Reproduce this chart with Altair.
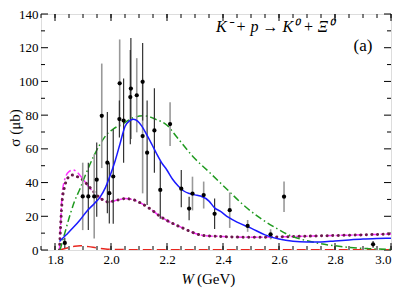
import altair as alt
import pandas as pd

# ---- data ----
gray_W = [1.899, 1.940, 1.967, 2.031, 2.092, 2.113, 2.211, 2.291, 2.331, 2.424, 2.488, 2.570, 2.618]
gray_s = [31.8, 31.8, 79.6, 98.9, 91.8, 67.6, 74.7, 33.5, 32.6, 23.6, 14.3, 9.3, 31.6]
gray_e = [20, 25, 31, 26, 22, 34, 13, 10, 8, 10.5, 3.5, 3, 9]

dark_W = [1.835, 1.919, 1.949, 1.987, 1.994, 2.008, 2.030, 2.045, 2.069, 2.071, 2.113, 2.129, 2.155, 2.176, 2.251, 2.279, 2.370, 2.936]
dark_s = [4.2, 31.8, 41.7, 51.8, 33.7, 43.6, 77.7, 76.8, 90.7, 95.8, 99.8, 57.7, 70.9, 35.6, 36.4, 24.6, 21.5, 3.4]
dark_e = [3, 20, 22, 30, 18, 28, 11, 25, 28, 30, 23, 31, 25, 17, 11, 7, 9, 2]

blue_W = [1.816, 1.84, 1.865, 1.89, 1.913, 1.94, 1.961, 1.98, 1.996, 2.015, 2.032, 2.05, 2.065, 2.08, 2.095, 2.11, 2.127, 2.145, 2.163, 2.18, 2.199, 2.22, 2.24, 2.26, 2.28, 2.3, 2.32, 2.35, 2.37, 2.39, 2.42, 2.45, 2.5, 2.55, 2.6, 2.65, 2.7, 2.75, 2.8, 2.85, 2.9, 2.95, 3.0]
blue_s = [5, 9, 13.3, 18, 22.9, 27.5, 31.4, 37, 43.8, 53, 62.9, 73.3, 76.5, 77.5, 76.5, 73.5, 68.6, 63, 57.1, 52, 47.6, 42, 38, 35, 33.5, 32.7, 32, 29, 25, 23, 19.3, 16.5, 13, 9, 6.5, 5.2, 4.8, 4.8, 5.4, 6, 6.5, 6.8, 7]

green_W = [1.818, 1.835, 1.854, 1.87, 1.889, 1.91, 1.937, 1.96, 1.985, 2.01, 2.044, 2.08, 2.12, 2.16, 2.2, 2.235, 2.294, 2.354, 2.413, 2.473, 2.532, 2.59, 2.639, 2.7, 2.746, 2.8, 2.854, 2.92, 3.0]
green_s = [0, 10, 21, 29, 36.2, 45, 55.2, 62.5, 68.6, 72, 75, 78.5, 79.6, 77.5, 74, 67, 55.2, 45.7, 36.2, 26.7, 19, 13, 8.6, 5.5, 3.8, 2.5, 1.5, 0.8, 0.3]

mag_W = [1.816, 1.82, 1.825, 1.835, 1.85, 1.865, 1.88, 1.9, 1.925, 1.96, 1.99, 2.02, 2.05, 2.08, 2.11, 2.145, 2.175, 2.2, 2.23, 2.26, 2.29, 2.33, 2.4, 2.5, 2.6, 2.7, 2.8, 2.9, 3.0]
mag_s = [0, 15, 32, 42, 46.5, 47.5, 46, 42, 36.5, 31, 28.5, 29.5, 30.5, 29.8, 27.5, 23.8, 20, 17.5, 15, 12.8, 10.5, 8.6, 8, 7.5, 7.8, 8.2, 8.6, 9, 9.5]
dot_s = [0, 14, 28, 38, 43.5, 44.5, 43.5, 41.5, 37, 31, 28.5, 29.5, 30.5, 29.8, 27.5, 23.8, 20, 17.5, 15, 12.8, 10.5, 8.6, 8, 7.5, 7.8, 8.2, 8.6, 9, 9.5]

red_W = [1.816, 1.84, 1.87, 1.89, 1.92, 1.95, 1.98, 2.02, 2.1, 2.5, 3.0]
red_s = [0, 1, 2.2, 2.5, 2, 1.2, 0.6, 0.3, 0.2, 0.2, 0.2]

x_major = [1.8, 2.0, 2.2, 2.4, 2.6, 2.8, 3.0]
x_minor = [round(1.75 + 0.05 * i, 2) for i in range(26)]
y_major = [0, 20, 40, 60, 80, 100, 120, 140]
y_minor = [10, 30, 50, 70, 90, 110, 130]

W, H = 350, 236
FONT = "Liberation Serif, Times New Roman, serif"

xs = alt.Scale(domain=[1.75, 3.0], nice=False, zero=False)
ys = alt.Scale(domain=[0, 140], nice=False)

xaxis = alt.Axis(values=x_major, format=".1f", ticks=False, domain=False, grid=False,
                 labelFont=FONT, labelFontSize=13, labelColor="black", labelPadding=3, title=None)
yaxis = alt.Axis(values=y_major, ticks=False, domain=False, grid=False,
                 labelFont=FONT, labelFontSize=13, labelColor="black", labelPadding=3, title=None)

def X(f):
    return alt.X(f, scale=xs, axis=xaxis)

def Y(f):
    return alt.Y(f, scale=ys, axis=yaxis)

def pts(Wl, sl, el):
    return pd.DataFrame({"W": Wl, "s": sl, "lo": [a - b for a, b in zip(sl, el)], "hi": [a + b for a, b in zip(sl, el)]})

gdf = pts(gray_W, gray_s, gray_e)
ddf = pts(dark_W, dark_s, dark_e)

def curve(Wl, sl, color, dash=None, width=1.5, cap="butt"):
    df = pd.DataFrame({"W": Wl, "s": sl})
    kw = dict(color=color, strokeWidth=width, interpolate="monotone", clip=True, strokeCap=cap)
    if dash:
        kw["strokeDash"] = dash
    return alt.Chart(df).mark_line(**kw).encode(x=X("W:Q"), y=Y("s:Q"))

gbars = alt.Chart(gdf).mark_rule(color="#999999", strokeWidth=1.6, clip=True).encode(
    x=X("W:Q"), y=Y("lo:Q"), y2="hi:Q")
dbars = alt.Chart(ddf).mark_rule(color="#333333", strokeWidth=1.2, clip=True).encode(
    x=X("W:Q"), y=Y("lo:Q"), y2="hi:Q")
allpts = pd.concat([gdf, ddf])
dots = alt.Chart(allpts).mark_circle(color="black", size=18, opacity=1).encode(
    x=X("W:Q"), y=Y("s:Q"))

red = curve(red_W, red_s, "#e8271f", [9, 5], 1.5)
mag = curve(mag_W, mag_s, "#ff30ff", [7, 3, 2, 3], 1.5)
dot = curve(mag_W, dot_s, "#6a1a4a", [0.1, 5.5], 3, "round")
green = curve(green_W, green_s, "#1f9a1f", [7, 3, 1.5, 3], 1.5)
blue = curve(blue_W, blue_s, "#1a1aff", None, 1.5)

# inward ticks on all four sides
def xticks(vals, L):
    df = pd.DataFrame({"W": vals})
    b = alt.Chart(df).mark_rule(color="black", strokeWidth=1).encode(
        x=X("W:Q"), y=alt.value(H), y2=alt.value(H - L))
    t = alt.Chart(df).mark_rule(color="black", strokeWidth=1).encode(
        x=X("W:Q"), y=alt.value(0), y2=alt.value(L))
    return b + t

def yticks(vals, L):
    df = pd.DataFrame({"s": vals})
    l = alt.Chart(df).mark_rule(color="black", strokeWidth=1).encode(
        y=Y("s:Q"), x=alt.value(0), x2=alt.value(L))
    r = alt.Chart(df).mark_rule(color="black", strokeWidth=1).encode(
        y=Y("s:Q"), x=alt.value(W), x2=alt.value(W - L))
    return l + r

ticks = xticks(x_major, 7) + xticks(x_minor, 4) + yticks(y_major, 7) + yticks(y_minor, 4)

def txt(t, x, y, size, style="normal", align="center", angle=0):
    return alt.Chart(pd.DataFrame({"t": [t]})).mark_text(
        font=FONT, fontSize=size, fontStyle=style, color="black", align=align, baseline="middle",
        angle=angle).encode(text="t:N", x=alt.value(x), y=alt.value(y))

title_txt = txt("K⁻ + p → K⁰ + Ξ⁰", 234, 13, 16, "italic")
lab_txt = txt("(a)", 322, 32, 17)
xt1 = txt("W", 153, 265, 15, "italic", "right")
xt2 = txt("(GeV)", 156, 265, 15, "normal", "left")
yt = txt("σ (μb)", -26, 114, 15, "normal", "center", 270)

chart = alt.layer(ticks, red, mag, dot, green, gbars, dbars, blue, dots,
                  title_txt, lab_txt, xt1, xt2, yt).properties(
    width=W, height=H,
    autosize=alt.AutoSizeParams(type="none"),
    padding={"left": 33, "top": 6, "right": 2, "bottom": 41},
).configure_view(stroke="black", strokeWidth=1.2).configure(background="white", font=FONT)

chart.save("out.html", embed_options={"renderer": "svg", "actions": False})
